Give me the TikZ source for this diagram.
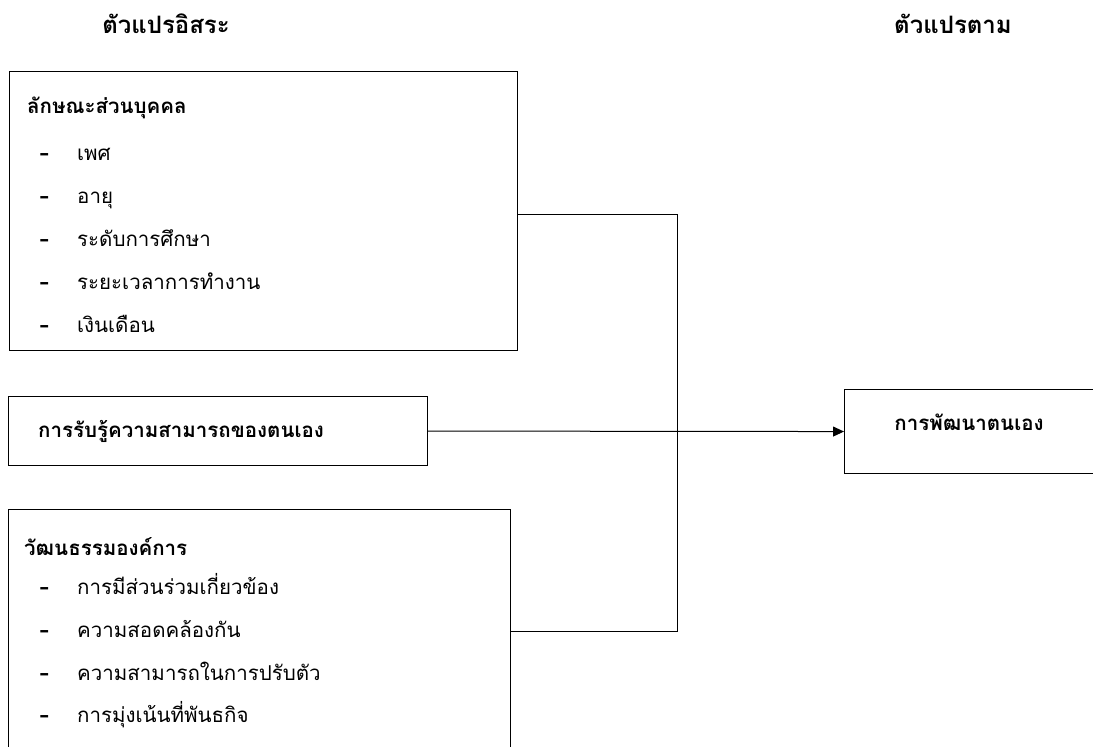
\documentclass[tikz,border=0pt]{standalone}
\usepackage{fontspec}
\newfontfamily\thaifont[Script=Thai]{Loma}
\usetikzlibrary{arrows.meta,calc}
\begin{document}
\begin{tikzpicture}[x=1pt,y=-1pt,
  box/.style={draw=black,line width=1.1pt,rectangle,anchor=north west,inner sep=0pt},
  txt/.style={anchor=base west,inner sep=0pt,font=\thaifont\fontsize{20.5}{24}\selectfont},
  btxt/.style={anchor=base west,inner sep=0pt,font=\thaifont\bfseries\fontsize{20.5}{24}\selectfont},
  htxt/.style={anchor=base,inner sep=0pt,font=\thaifont\bfseries\fontsize{24}{28}\selectfont},
  dashmark/.style={anchor=base,inner sep=0pt,font=\bfseries\fontsize{26}{28}\selectfont},
  conn/.style={line width=1pt},
]
\useasboundingbox (0,0) rectangle (1093,747);
\clip (0,0) rectangle (1093,747);
% headers
\node[htxt] (hIndep) at (166,33) {ตัวแปรอิสระ};
\node[htxt] (hDep) at (953,33) {ตัวแปรตาม};
% box 1
\node[box,minimum width=508pt,minimum height=279pt] (box1) at (9,71) {};
\node[btxt] (t1) at (27,113) {ลักษณะส่วนบุคคล};
\foreach \y/\s [count=\i] in {160/เพศ,203/อายุ,246/ระดับการศึกษา,289/ระยะเวลาการทำงาน,332/เงินเดือน}{
  \node[dashmark] (d1\i) at (45,\y) {-};
  \node[txt] (i1\i) at (77,\y) {\s};
}
% box 2
\node[box,minimum width=419pt,minimum height=69pt] (box2) at (8,396) {};
\node[btxt] (t2) at (38,437) {การรับรู้ความสามารถของตนเอง};
% box 3
\node[box,minimum width=502pt,minimum height=244pt] (box3) at (8,509) {};
\node[btxt] (t3) at (24,555) {วัฒนธรรมองค์การ};
\foreach \y/\s [count=\i] in {594/การมีส่วนร่วมเกี่ยวข้อง,637/ความสอดคล้องกัน,680/ความสามารถในการปรับตัว,722/การมุ่งเน้นที่พันธกิจ}{
  \node[dashmark] (d3\i) at (45,\y) {-};
  \node[txt] (i3\i) at (77,\y) {\s};
}
% box 4
\node[box,minimum width=260pt,minimum height=84pt] (box4) at (844,389) {};
\node[btxt,anchor=base] (t4) at (969,430) {การพัฒนาตนเอง};
% connectors
\coordinate (J) at (677,432);
\draw[conn] ($(box1.east)+(0,3.5)$) -| (J);
\draw[conn] (box3.east) -| (J);
\draw[conn,-{Triangle[length=11pt,width=10pt]}] (box2.east) -- (box4.west);
\end{tikzpicture}
\end{document}
